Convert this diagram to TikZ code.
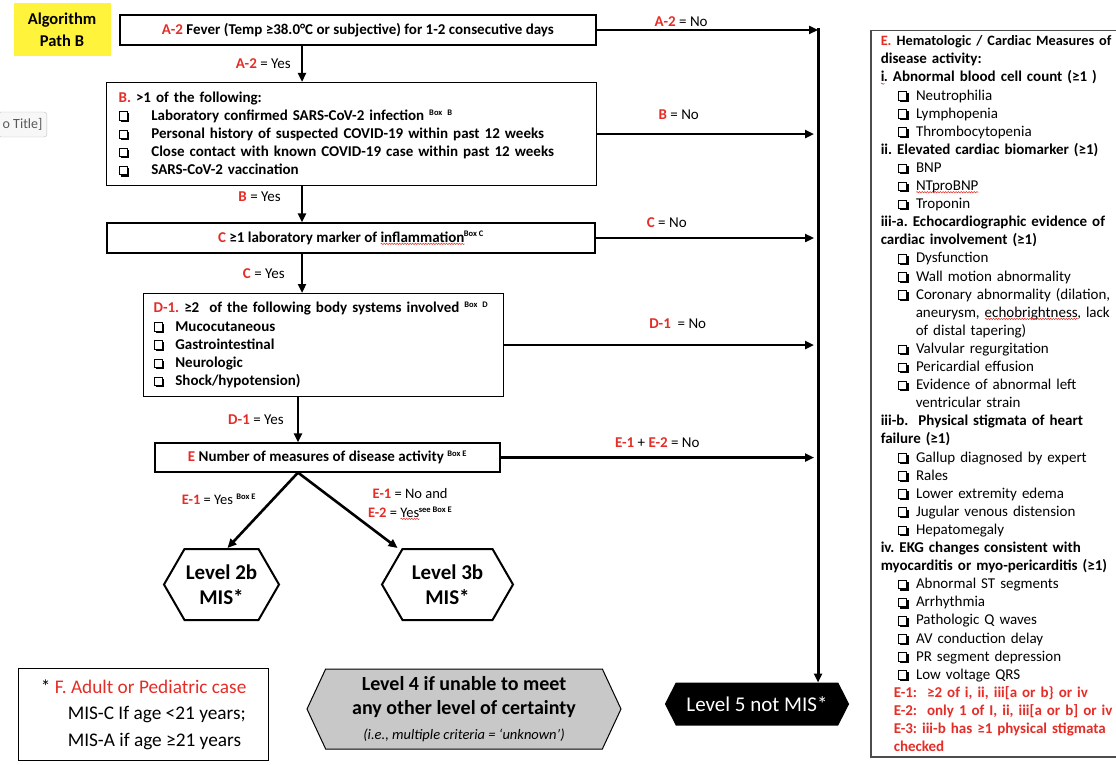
\documentclass[tikz,border=0pt]{standalone}
\usepackage{fontspec}
\setmainfont{Carlito}
\usepackage{xcolor}
\usetikzlibrary{arrows.meta, positioning, calc, shapes.symbols, decorations.pathmorphing}

\definecolor{codered}{RGB}{229,45,39}
\definecolor{pathyellow}{RGB}{255,243,60}
\definecolor{levelgrey}{RGB}{200,200,200}

% small helpers for the text
\newcommand{\rd}[1]{\textcolor{codered}{#1}}
\newcommand{\boxref}[1]{\textsuperscript{\fontsize{8.5}{8.5}\selectfont\bfseries #1}}
\newcommand{\chk}{\tikz[x=1pt,y=1pt,baseline=0pt]{\draw[-, line width=0.9pt] (0,0) rectangle (8.5,8.5); \draw[-, line width=1.8pt] (1.6,-0.9) -- (9.4,-0.9) -- (9.4,6.8);}}
\newsavebox{\squigbox}
\newcommand{\squig}[1]{\sbox\squigbox{#1}\edef\squigw{\the\wd\squigbox}\rlap{\usebox\squigbox}\smash{\lower2.6pt\hbox{\tikz[x=1pt,y=1pt]\draw[-, codered, line width=0.5pt, decorate, decoration={snake, amplitude=0.7pt, segment length=2.6pt}] (0pt,0pt) -- (\squigw,0pt);}}\hspace{-1pt}}
\newcommand{\itm}[1]{\hspace*{17pt}\chk\hspace{7.5pt}#1}
\newcommand{\cont}[1]{\hspace*{35pt}#1}

\begin{document}
\frenchspacing
\begin{tikzpicture}[
    x=1pt, y=-1pt,
    font=\fontsize{15}{18.2}\selectfont\bfseries,
    flowbox/.style={draw, line width=1.2pt, inner sep=0pt, align=center},
    lvlhex/.style={signal, signal to=west and east, draw, line width=2pt, inner sep=0pt, align=center, font=\fontsize{21}{25}\selectfont\bfseries},
    lbl/.style={font=\fontsize{15}{17}\selectfont, inner sep=2pt},
    arr/.style={-{Triangle[length=9pt,width=8pt]}, line width=2.6pt}
]
\useasboundingbox (0,0) rectangle (1116,765);

\node[fill=pathyellow, minimum width=97pt, minimum height=53pt, align=center, font=\fontsize{16.5}{22}\selectfont\bfseries] (pathb) at (62,30) {Algorithm\\Path B};
\node[draw=black!25, fill=black!3, rounded corners=3pt, minimum height=25pt, inner sep=4.5pt, font=\fontsize{14}{16}\selectfont, text=black!65, anchor=west] (tiptitle) at (-2,124.5) {o Title]};

% main chain
\node[flowbox, line width=2.5pt, minimum width=476pt, minimum height=30pt] (a2) at (358,30) {\rd{A-2} Fever (Temp ≥38.0°C or subjective) for 1-2 consecutive days};
\node[flowbox, anchor=north west, minimum width=490pt, minimum height=103pt, text width=466pt, align=left] (bbox) at (106,82) {\rd{B.} >1 of the following:\\
\chk\hspace{22pt}Laboratory confirmed SARS-CoV-2 infection \boxref{Box B}\\
\chk\hspace{22pt}Personal history of suspected COVID-19 within past 12 weeks\\
\chk\hspace{22pt}Close contact with known COVID-19 case within past 12 weeks\\
\chk\hspace{22pt}SARS-CoV-2 vaccination};
\node[flowbox, minimum width=488pt, minimum height=30pt] (cbox) at (351,238) {\rd{C} ≥1 laboratory marker of \squig{inflammation}\boxref{Box C}};
\node[flowbox, anchor=north west, minimum width=360pt, minimum height=103pt, text width=340pt, align=left] (dbox) at (143,293) {\rd{D-1.} ≥2~ of the following body systems involved \boxref{Box D}\\
\chk\hspace{11pt}Mucocutaneous\\
\chk\hspace{11pt}Gastrointestinal\\
\chk\hspace{11pt}Neurologic\\
\chk\hspace{11pt}Shock/hypotension)};
\node[flowbox, minimum width=345pt, minimum height=29pt] (ebox) at (327.5,457.5) {\rd{E} Number of measures of disease activity \boxref{Box E}};

% outcomes
\node[lvlhex, minimum width=115pt, minimum height=71pt, signal pointer angle=120] (lvl2b) at (221.5,584.5) {Level 2b\\MIS*};
\node[lvlhex, minimum width=131pt, minimum height=71pt, signal pointer angle=120] (lvl3b) at (447.5,584.5) {Level 3b\\MIS*};
\node[lvlhex, fill=levelgrey, line width=1pt, minimum width=314pt, minimum height=80pt, signal pointer angle=130, font=\fontsize{20}{24.5}\selectfont\bfseries] (lvl4) at (464,709) {Level 4 if unable to meet\\any other level of certainty\\{\fontsize{14.5}{16}\selectfont\mdseries\itshape (i.e., multiple criteria = ‘unknown’)}};
\node[lvlhex, fill=black, text=white, minimum width=182pt, minimum height=41pt, signal pointer angle=126, font=\fontsize{21}{23}\selectfont\mdseries] (lvl5) at (757,704) {Level 5 not MIS*};

\node[draw, line width=1.2pt, anchor=north west, minimum width=250pt, minimum height=92pt, inner xsep=14pt, inner ysep=0pt, align=left, font=\fontsize{19.3}{26.5}\selectfont\mdseries] (fbox) at (18,668) {* \rd{F. Adult or Pediatric case}\\
\hspace*{27pt}MIS-C If age <21 years;\\
\hspace*{27pt}MIS-A if age ≥21 years};

% measures of disease activity
\node[draw=black!70, line width=1.5pt, anchor=north west, text width=250pt, inner xsep=10pt, inner ysep=5pt, align=left, font=\fontsize{15}{18.1}\selectfont\mdseries] (measures) at (870,30) {{\fontsize{14.3}{18.1}\selectfont\bfseries\rd{E.} Hematologic / Cardiac Measures of}\\
\textbf{disease activity:}\\
\textbf{\squig{i}. Abnormal blood cell count (≥1 )}\\
\itm{Neutrophilia}\\
\itm{Lymphopenia}\\
\itm{Thrombocytopenia}\\
\textbf{ii. Elevated cardiac biomarker (≥1)}\\
\itm{BNP}\\
\itm{\squig{NTproBNP}}\\
\itm{Troponin}\\
\textbf{iii-a. Echocardiographic evidence of}\\
\textbf{cardiac involvement (≥1)}\\
\itm{Dysfunction}\\
\itm{Wall motion abnormality}\\
\itm{Coronary abnormality (dilation,}\\
\cont{aneurysm, \squig{echobrightness}, lack}\\
\cont{of distal tapering)}\\
\itm{Valvular regurgitation}\\
\itm{Pericardial effusion}\\
\itm{Evidence of abnormal left}\\
\cont{ventricular strain}\\
\textbf{iii-b.~ Physical stigmata of heart}\\
\textbf{failure (≥1)}\\
\itm{Gallup diagnosed by expert}\\
\itm{Rales}\\
\itm{Lower extremity edema}\\
\itm{Jugular venous distension}\\
\itm{Hepatomegaly}\\
\textbf{iv. EKG changes consistent with}\\
\textbf{myocarditis or myo-pericarditis (≥1)}\\
\itm{Abnormal ST segments}\\
\itm{Arrhythmia}\\
\itm{Pathologic Q waves}\\
\itm{AV conduction delay}\\
\itm{PR segment depression}\\
\itm{Low voltage QRS}\\
\hspace*{13pt}\textbf{\rd{E-1:~ ≥2 of i, ii, iii[a or b\} or iv}}\\
\hspace*{13pt}\textbf{\rd{E-2:~ only 1 of I, ii, iii[a or b] or iv}}\\
\hspace*{13pt}\textbf{\rd{E-3: iii-b has ≥1 physical stigmata}}\\
\hspace*{13pt}\textbf{\rd{checked}}};

% yes path
\coordinate (spine) at (302,0);
\coordinate (spined) at (298,0);
\coordinate (rail) at (818,0);
\draw[arr] (a2.south -| spine) -- (bbox.north -| spine) node[lbl, midway, left=8pt] (a2yes) {\rd{\bfseries A-2} = Yes};
\draw[arr] (bbox.south -| spine) -- (cbox.north -| spine) node[lbl, pos=0.3, left=18pt] (byes) {\rd{\bfseries B} = Yes};
\draw[arr] (cbox.south -| spine) -- (dbox.north -| spine) node[lbl, midway, left=14pt] (cyes) {\rd{\bfseries C} = Yes};
\draw[arr] (dbox.south -| spined) -- (ebox.north -| spined) node[lbl, midway, left=11pt] (dyes) {\rd{\bfseries D-1} = Yes};

% branches from E
\coordinate (apex) at (ebox.south -| spined);
\draw[arr] (apex) -- ([xshift=6pt]lvl2b.north) node[lbl, font=\fontsize{14.5}{16}\selectfont, pos=0.35, left=14pt] (e1yes) {\rd{\bfseries E-1} = Yes \boxref{Box E}};
\draw[arr] (apex) -- ([xshift=-50pt]lvl3b.north) node[lbl, font=\fontsize{14.5}{19}\selectfont, align=center, pos=0.4, right=28pt] (e2yes) {\rd{\bfseries E-1} = No and\\\rd{\bfseries E-2} = \squig{Yes}\boxref{see Box E}};

% no path
\draw[arr] (a2.east) -- (a2.east -| rail) node[lbl, pos=0.38, above=0pt] (a2no) {\rd{\bfseries A-2} = No};
\draw[arr] (bbox.east) -- ([xshift=-4pt]bbox.east -| rail) node[lbl, pos=0.376, above=11pt] (bno) {\rd{\bfseries B} = No};
\draw[arr] (cbox.east) -- ([xshift=-4pt]cbox.east -| rail) node[lbl, pos=0.326, above=7pt] (cno) {\rd{\bfseries C} = No};
\draw[arr] (dbox.east) -- ([xshift=-4pt]dbox.east -| rail) node[lbl, pos=0.56, above=13pt] (dno) {\rd{\bfseries D-1}~ = No};
\draw[arr] (ebox.east) -- ([xshift=-4pt]ebox.east -| rail) node[lbl, pos=0.5, above=7pt] (eno) {\rd{\bfseries E-1} + \rd{\bfseries E-2} = No};
\draw[arr, line width=3pt] ([yshift=1.5pt]a2.east -| rail) -- (lvl5.north -| rail);

\end{tikzpicture}
\end{document}
